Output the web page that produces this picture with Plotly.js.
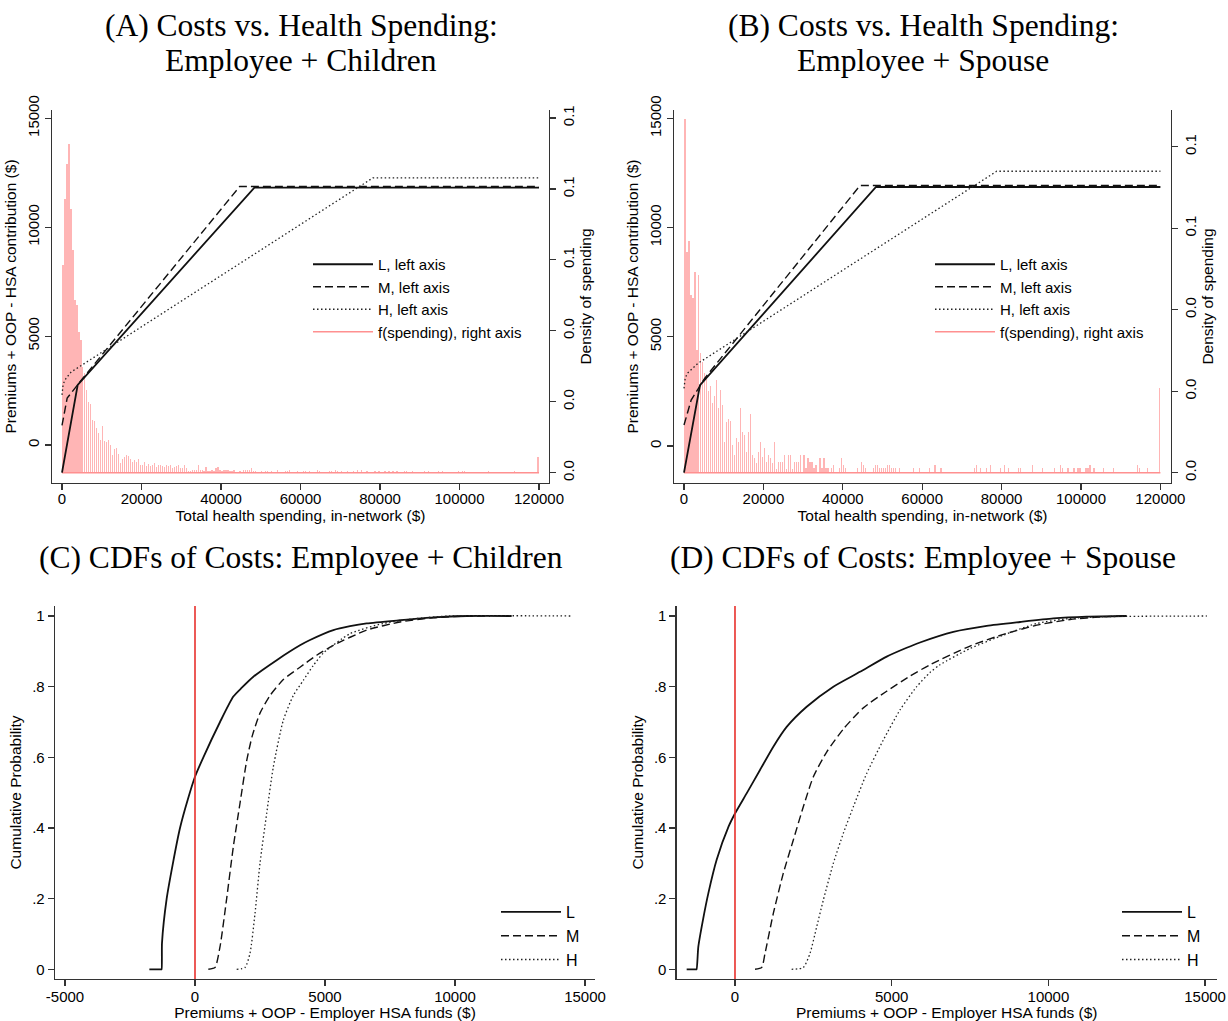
<!DOCTYPE html>
<html>
<head>
<meta charset="utf-8">
<script src="https://cdn.plot.ly/plotly-3.0.1.min.js"></script>
<style>html,body{margin:0;padding:0;background:#fff;}#chart{width:1228px;height:1021px;}</style>
</head>
<body>
<div id="chart"></div>
<script>
// ---------- Panel A: Employee + Children (cost curves, left axis $) ----------
const A_L_x = [0, 3950, 48400, 120000];
const A_L_y = [-1270, 2760, 11820, 11820];
const A_M_x = [0, 1300, 4500, 44700, 120000];
const A_M_y = [900, 2150, 2900, 11870, 11870];
const A_H_x = [0, 300, 1000, 2300, 78170, 120000];
const A_H_y = [2300, 2800, 3060, 3350, 12260, 12260];

// Panel A spending histogram (bin width $500), density, right axis
const histBinWidth = 500;
const A_hist_dense = [
  0.0585,0.0773,0.0870,0.0926,0.0743,0.0627,0.0486,0.0472,0.0397,0.0374,
  0.0297,0.0280,0.0233,0.0198,0.0193,0.0150,0.0146,0.0125,0.0111,0.0092,
  0.0131,0.0090,0.0087,0.0092,0.0078,0.0050,0.0066,0.0069,0.0053,0.0026,
  0.0040,0.0045,0.0050,0.0047,0.0040,0.0031,0.0036,0.0031,0.0040,0.0022,
  0.0022,0.0031,0.0019,0.0024,0.0019,0.0022,0.0026,0.0017,0.0023,0.0022,
  0.0019,0.0017,0.0022,0.0019,0.0022,0.0012,0.0017,0.0019,0.0022,0.0012,
  0.0012,0.0022,0.0012,0.0005,0.0006,0.0008,0.0009,0.0009,0.0022,0.0009,
  0.0008,0.0006,0.0015,0.0006,0.0006,0.0009,0.0006,0.0012,0.0015,0.0008,
  0.0006,0.0009,0.0009,0.0009,0.0006,0.0006,0.0009
];
const A_hist_tail_bin = [
  89,91,92,93,94,95,96,97,
  100,102,103,105,108,
  112,113,114,118,
  121,122,124,128,129,
  134,135,137,138,140,
  143,146,148,150,153,
  157,159,162,164,166,
  168,172,173,176,182,
  184,189,191,199,201,
  202,214,227,239
];
const A_hist_tail_val = [
  0.0006,0.0009,0.0009,0.0009,0.0009,0.0012,0.0006,0.0006,
  0.0006,0.0006,0.0006,0.0006,0.0009,
  0.0006,0.0006,0.0009,0.0006,
  0.0006,0.0006,0.0006,0.0009,0.0006,
  0.0006,0.0006,0.0009,0.0006,0.0006,
  0.0006,0.0006,0.0009,0.0009,0.0006,
  0.0006,0.0006,0.0006,0.0006,0.0006,
  0.0006,0.0006,0.0006,0.0006,0.0006,
  0.0006,0.0006,0.0006,0.0006,0.0006,
  0.0006,0.0006,0.0006,0.0045
];

// ---------- Panel B: Employee + Spouse ----------
const B_L_x = [0, 4030, 48360, 120000];
const B_L_y = [-1220, 2790, 11860, 11860];
const B_M_x = [0, 1800, 5200, 44330, 120000];
const B_M_y = [960, 2100, 3100, 11925, 11925];
const B_H_x = [0, 300, 840, 3530, 78760, 120000];
const B_H_y = [2640, 3100, 3330, 3787, 12580, 12580];

const B_hist_dense = [
  0.0867,0.0542,0.0569,0.0436,0.0428,0.0493,0.0301,0.0485,0.0293,0.0272,
  0.0244,0.0231,0.0201,0.0213,0.0170,0.0187,0.0227,0.0158,0.0203,0.0166,
  0.0076,0.0125,0.0133,0.0128,0.0068,0.0043,0.0084,0.0076,0.0160,0.0101,
  0.0092,0.0052,0.0101,0.0144,0.0043,0.0035,0.0025,0.0052,0.0076,0.0038,
  0.0060,0.0027,0.0043,0.0035,0.0025,0.0076,0.0008,0.0027,0.0027,0.0027,
  0.0043,0.0008,0.0043,0.0043,0.0008,0.0027,0.0027,0.0027
];
const B_hist_tail_bin = [
  58,60,61,62,63,64,65,66,
  68,69,70,71,72,
  74,75,78,79,80,81,
  87,89,90,91,
  95,96,97,98,99,100,101,102,103,104,105,106,
  108,115,118,123,126,129,
  146,147,149,152,154,
  159,161,163,168,169,
  175,180,186,189,190,
  193,196,198,199,
  202,203,204,206,
  211,216,228,229,233,239
];
const B_hist_tail_val = [
  0.0043,0.0043,0.0011,0.0035,0.0027,0.0027,0.0011,0.0019,
  0.0035,0.0011,0.0035,0.0011,0.0011,
  0.0011,0.0019,0.0011,0.0035,0.0019,0.0011,
  0.0011,0.0027,0.0019,0.0011,
  0.0011,0.0019,0.0019,0.0011,0.0011,0.0011,0.0011,0.0019,0.0019,0.0011,0.0011,0.0011,
  0.0011,0.0011,0.0011,0.0011,0.0019,0.0011,
  0.0011,0.0019,0.0011,0.0011,0.0019,
  0.0011,0.0019,0.0011,0.0011,0.0011,
  0.0019,0.0011,0.0011,0.0019,0.0011,
  0.0011,0.0011,0.0011,0.0011,
  0.0011,0.0011,0.0019,0.0011,
  0.0011,0.0011,0.0019,0.0011,0.0011,0.0207
];

// ---------- Panel C: CDFs, Employee + Children ----------
const C_L_x = [-1756,-1300,-1285,-1270,-1090,-850,-577,-280,0,321,962,1474,1800,2244,3141,4038,4423,5321,5962,6603,7885,9167,10449,12180];
const C_L_y = [0,0,0,0.074,0.2,0.3,0.4,0.48,0.545,0.6,0.7,0.772,0.797,0.828,0.875,0.917,0.932,0.960,0.971,0.979,0.988,0.996,1,1];
const C_M_x = [513,769,962,1218,1474,1731,1987,2200,2500,2885,3397,4038,4680,5321,6603,7885,9167,10449,11346];
const C_M_y = [0,0.005,0.064,0.2,0.347,0.47,0.59,0.66,0.725,0.775,0.82,0.855,0.889,0.917,0.96,0.983,0.995,1,1];
const C_H_x = [1603,1923,2115,2308,2500,2757,3013,3397,3782,4167,4551,4936,5962,7244,8526,9808,14487];
const C_H_y = [0,0.005,0.045,0.158,0.3,0.441,0.573,0.705,0.775,0.818,0.86,0.895,0.95,0.979,0.993,1,1];

// ---------- Panel D: CDFs, Employee + Spouse ----------
const D_L_x = [-1542,-1240,-1225,-1170,-1011,-851,-585,-200,0,372,798,1223,1649,2287,3138,3989,4840,5478,5903,6967,8031,9095,10158,11222,12498];
const D_L_y = [0,0,0,0.064,0.145,0.215,0.31,0.405,0.441,0.498,0.564,0.63,0.686,0.743,0.80,0.842,0.885,0.91,0.925,0.955,0.972,0.983,0.993,0.998,1];
const D_M_x = [639,851,958,1223,1542,1861,2180,2500,2925,3457,4095,4840,5584,6223,7499,8563,9627,10691,11754,12445];
const D_M_y = [0,0.005,0.045,0.158,0.272,0.366,0.46,0.545,0.615,0.68,0.74,0.787,0.83,0.862,0.915,0.948,0.974,0.99,0.998,1];
const D_H_x = [1808,2180,2393,2606,2819,3138,3457,3776,4201,4733,5265,5797,6223,6541,7499,8563,9627,10691,11754,15053];
const D_H_y = [0,0.005,0.045,0.12,0.196,0.30,0.385,0.46,0.554,0.649,0.734,0.80,0.84,0.862,0.908,0.946,0.979,0.993,0.998,1];

// Tick labels
const spendTicks = [0,20000,40000,60000,80000,100000,120000];
const spendTickText = ['0','20000','40000','60000','80000','100000','120000'];
const costTicks = [0,5000,10000,15000];
const costTickText = ['0','5000','10000','15000'];
const A_densTicks = [0,0.02,0.04,0.06,0.08,0.1];
const B_densTicks = [0,0.02,0.04,0.06,0.08];
const cdfTicks = [0,0.2,0.4,0.6,0.8,1];
const cdfTickText = ['0','.2','.4','.6','.8','1'];
const C_xTicks = [-5000,0,5000,10000,15000];
const C_xTickText = ['-5000','0','5000','10000','15000'];
const D_xTicks = [0,5000,10000,15000];
const D_xTickText = ['0','5000','10000','15000'];

const planNames = ['L, left axis','M, left axis','H, left axis'];
const densName = 'f(spending), right axis';
const cdfNames = ['L','M','H'];
const titleA = ['(A) Costs vs. Health Spending:', 'Employee + Children'];
const titleB = ['(B) Costs vs. Health Spending:', 'Employee + Spouse'];
const titleC = '(C) CDFs of Costs: Employee + Children';
const titleD = '(D) CDFs of Costs: Employee + Spouse';

// ---------- build ----------
function buildHist(dense, tb, tv){
  const x = [], y = [];
  dense.forEach((v,k)=>{ x.push(k*histBinWidth + histBinWidth/2); y.push(v); });
  tb.forEach((k,i)=>{ x.push(k*histBinWidth + histBinWidth/2); y.push(tv[i]); });
  const lastBin = Math.max(dense.length-1, ...tb);
  return {x, y, x0: 0, x1: (lastBin+1)*histBinWidth};
}
const hA = buildHist(A_hist_dense, A_hist_tail_bin, A_hist_tail_val);
const hB = buildHist(B_hist_dense, B_hist_tail_bin, B_hist_tail_val);

const PINK = 'rgba(255,120,120,0.55)';
const PINKLINE = '#ff9090';
const styles = [
  {color:'#111', width:1.8, dash:'solid'},
  {color:'#111', width:1.4, dash:'8px,4px'},
  {color:'#222', width:1.3, dash:'1.5px,2.5px'}
];

const traces = [];
function histTraces(h, xa, ya, leg){
  traces.push({type:'bar', x:h.x, y:h.y, xaxis:xa, yaxis:ya, width:histBinWidth*0.62,
    marker:{color:PINK, line:{width:0}}, showlegend:false, hoverinfo:'skip'});
  return {type:'scatter', mode:'lines', x:[h.x0,h.x1], y:[0,0], xaxis:xa, yaxis:ya,
    line:{color:PINKLINE, width:1.5}, name:densName, legend:leg, hoverinfo:'skip'};
}
const baseA = histTraces(hA,'x','y','legend');
const baseB = histTraces(hB,'x2','y3','legend2');
traces.push(baseB); traces.push(baseA);
function lineSet(xs, ys, names, xa, ya, leg, smooth){
  xs.forEach((x,i)=>{
    const ln = Object.assign({}, styles[i]);
    if(smooth){ ln.shape = 'spline'; ln.smoothing = 0.6; }
    traces.push({type:'scatter', mode:'lines', x:x, y:ys[i], xaxis:xa, yaxis:ya,
      name:names[i], legend:leg, line:ln, legendrank:i+1});
  });
}
lineSet([A_L_x,A_M_x,A_H_x],[A_L_y,A_M_y,A_H_y],planNames,'x','y2','legend',false);
lineSet([B_L_x,B_M_x,B_H_x],[B_L_y,B_M_y,B_H_y],planNames,'x2','y4','legend2',false);
baseA.legendrank = 4; baseB.legendrank = 4;
lineSet([C_L_x,C_M_x,C_H_x],[C_L_y,C_M_y,C_H_y],cdfNames,'x3','y5','legend3',true);
lineSet([D_L_x,D_M_x,D_H_x],[D_L_y,D_M_y,D_H_y],cdfNames,'x4','y6','legend4',true);

const W = 1228, H = 1021;
const px = v => v/W, py = v => 1 - v/H;
const SANS = 'Liberation Sans, Arial, sans-serif';
const SERIF = 'Liberation Serif, Times New Roman, serif';
const TF = {family:SANS, size:15, color:'#000'};
const TTF = {family:SANS, size:15.5, color:'#000'};
const LF = {family:SANS, size:15, color:'#000'};
const baseAx = {showgrid:false, zeroline:false, showline:true, linecolor:'#333', linewidth:1.3,
  ticks:'outside', ticklen:6, tickwidth:1.2, tickcolor:'#333', tickfont:TF, automargin:false};

const topDom = [py(483), py(110)];
const botDom = [py(979), py(606)];
const titleFont = {family:SERIF, size:31.5, color:'#000'};
function ttl(text, xc, yc){
  return {text:text, x:px(xc), y:py(yc), xref:'paper', yref:'paper', xanchor:'center', yanchor:'middle', showarrow:false, font:titleFont};
}

const layout = {
  width:W, height:H, autosize:false, margin:{l:0,r:0,t:0,b:0},
  paper_bgcolor:'#fff', plot_bgcolor:'rgba(0,0,0,0)', bargap:0, barmode:'overlay',
  font:{family:SANS, color:'#000'},
  xaxis: Object.assign({}, baseAx, {domain:[px(52),px(549)], anchor:'y', range:[-2516,122516], tickvals:spendTicks, ticktext:spendTickText,
    ticklabelstandoff:-4, title:{text:'Total health spending, in-network ($)', font:TTF, standoff:0}}),
  yaxis: Object.assign({}, baseAx, {domain:topDom, anchor:'x', side:'right', range:[-0.0029,0.10226], tickvals:A_densTicks,
    tickformat:'.1f', tickangle:-90, title:{text:'Density of spending', font:TTF, standoff:2}}),
  yaxis2: Object.assign({}, baseAx, {overlaying:'y', anchor:'x', side:'left', range:[-1745,15381], tickvals:costTicks, ticktext:costTickText,
    tickangle:-90, title:{text:'Premiums + OOP - HSA contribution ($)', font:TTF, standoff:4}}),
  xaxis2: Object.assign({}, baseAx, {domain:[px(674.3),px(1170.7)], anchor:'y3', range:[-2443,122594], tickvals:spendTicks, ticktext:spendTickText,
    ticklabelstandoff:-4, title:{text:'Total health spending, in-network ($)', font:TTF, standoff:0}}),
  yaxis3: Object.assign({}, baseAx, {domain:topDom, anchor:'x2', side:'right', range:[-0.00253,0.08901], tickvals:B_densTicks,
    tickformat:'.1f', tickangle:-90, title:{text:'Density of spending', font:TTF, standoff:2}}),
  yaxis4: Object.assign({}, baseAx, {overlaying:'y3', anchor:'x2', side:'left', range:[-1694,15385], tickvals:costTicks, ticktext:costTickText,
    tickangle:-90, title:{text:'Premiums + OOP - HSA contribution ($)', font:TTF, standoff:4}}),
  xaxis3: Object.assign({}, baseAx, {domain:[px(55),px(595)], anchor:'y5', range:[-5385,15385], tickvals:C_xTicks, ticktext:C_xTickText,
    ticklabelstandoff:-2, title:{text:'Premiums + OOP - Employer HSA funds ($)', font:TTF, standoff:0}}),
  yaxis5: Object.assign({}, baseAx, {domain:botDom, anchor:'x3', range:[-0.0275,1.0283], tickvals:cdfTicks, ticktext:cdfTickText,
    title:{text:'Cumulative Probability', font:TTF, standoff:6}}),
  xaxis4: Object.assign({}, baseAx, {domain:[px(676.7),px(1216.7)], anchor:'y6', range:[-1860,15370], tickvals:D_xTicks, ticktext:D_xTickText,
    ticklabelstandoff:-2, title:{text:'Premiums + OOP - Employer HSA funds ($)', font:TTF, standoff:0}}),
  yaxis6: Object.assign({}, baseAx, {domain:botDom, anchor:'x4', range:[-0.0275,1.0283], tickvals:cdfTicks, ticktext:cdfTickText,
    title:{text:'Cumulative Probability', font:TTF, standoff:6}}),
  legend:  {x:px(308), y:py(248), xanchor:'left', yanchor:'top', itemwidth:60, bgcolor:'rgba(0,0,0,0)', font:LF, traceorder:'normal'},
  legend2: {x:px(930), y:py(248), xanchor:'left', yanchor:'top', itemwidth:60, bgcolor:'rgba(0,0,0,0)', font:LF, traceorder:'normal'},
  legend3: {x:px(496), y:py(895), xanchor:'left', yanchor:'top', itemwidth:60, bgcolor:'rgba(0,0,0,0)', font:{family:SANS,size:16,color:'#000'}, traceorder:'normal'},
  legend4: {x:px(1117), y:py(895), xanchor:'left', yanchor:'top', itemwidth:60, bgcolor:'rgba(0,0,0,0)', font:{family:SANS,size:16,color:'#000'}, traceorder:'normal'},
  shapes: [
    {type:'line', xref:'x3', yref:'y5 domain', x0:0, x1:0, y0:0, y1:1, line:{color:'#e8302c', width:1.6}},
    {type:'line', xref:'x4', yref:'y6 domain', x0:0, x1:0, y0:0, y1:1, line:{color:'#e8302c', width:1.6}}
  ],
  annotations: [
    ttl(titleA[0], 301, 25), ttl(titleA[1], 301, 61),
    ttl(titleB[0], 923, 25), ttl(titleB[1], 923, 61),
    ttl(titleC, 301, 557), ttl(titleD, 923, 557)
  ]
};

Plotly.newPlot('chart', traces, layout, {displayModeBar:false, staticPlot:true});
</script>
</body>
</html>
